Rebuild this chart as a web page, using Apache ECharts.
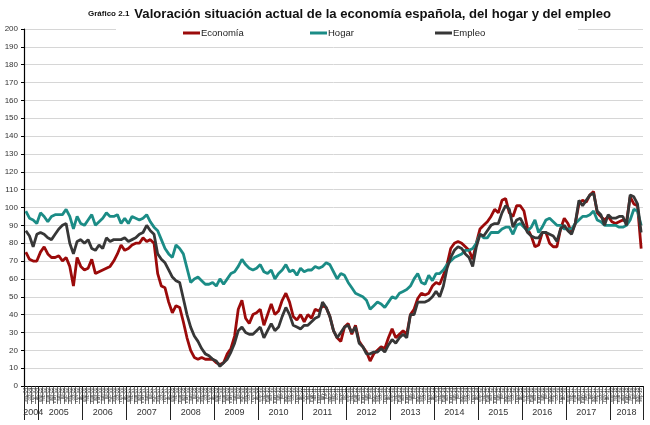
<!DOCTYPE html>
<html>
<head>
<meta charset="utf-8">
<script src="https://cdn.jsdelivr.net/npm/echarts@6/dist/echarts.min.js"></script>
<style>
  html, body { margin: 0; padding: 0; background: #fff; }
  #chart { width: 650px; height: 425px; }
</style>
</head>
<body>
<div id="chart"></div>
<script>
// meses sep-2004 .. sep-2018
var monthNames = ['ene', 'feb', 'mar', 'abr', 'may', 'jun', 'jul', 'ago', 'sep', 'oct', 'nov', 'dic'];
var startYear = 2004, startMonth = 8, monthCount = 169;

var yearLabels = ['2004', '2005', '2006', '2007', '2008', '2009', '2010', '2011',
                  '2012', '2013', '2014', '2015', '2016', '2017', '2018'];
// category index of each year's first month, and of the month under the year label
var yearStartIdx = [0, 4, 16, 28, 40, 52, 64, 76, 88, 100, 112, 124, 136, 148, 160];
var yearLabelIdx = [2, 9, 21, 33, 45, 57, 69, 81, 93, 105, 117, 129, 141, 153, 164];

var economia = [
  75, 71, 70, 70,
  75, 78, 74, 72, 72, 73, 70, 72, 67, 56, 72, 67,
  65, 66, 71, 63, 64, 65, 66, 67, 70, 74, 79, 76,
  77, 79, 80, 80, 83, 81, 82, 80, 63, 56, 55, 47,
  41, 45, 44, 36, 27, 20, 16, 15, 16, 15, 15, 15,
  13, 12, 13, 18, 21, 28, 43, 48, 38, 35, 40, 41,
  43, 34, 40, 46, 40, 42, 48, 52, 47, 39, 37, 40,
  36, 40, 38, 43, 42, 45, 44, 39, 31, 27, 25, 33,
  35, 29, 34, 25, 22, 19, 14, 18, 20, 22, 21, 27,
  32, 27, 29, 31, 29, 40, 43, 49, 52, 51, 52, 56,
  58, 57, 62, 68, 77, 80, 81, 80, 78, 76, 71, 80,
  88, 90, 92, 95, 99, 97, 104, 105, 97, 95, 101, 101,
  98, 88, 84, 78, 79, 86, 86, 80, 78, 78, 88, 94,
  91, 86, 91, 102, 104, 103, 107, 109, 97, 95, 93, 95,
  92, 91, 92, 93, 92, 106, 102, 101, 77
];

var hogar = [
  98, 94, 93, 91,
  97, 95, 92, 95, 96, 96, 96, 99, 95, 88, 95, 91,
  90, 93, 96, 90, 92, 94, 97, 95, 95, 96, 91, 94,
  91, 95, 94, 93, 94, 96, 92, 89, 87, 82, 77, 74,
  72, 79, 77, 74, 66, 58, 60, 61, 59, 57, 57, 58,
  56, 60, 57, 60, 63, 64, 67, 71, 68, 66, 65, 66,
  68, 64, 63, 65, 60, 63, 65, 68, 64, 65, 62, 66,
  64, 65, 65, 67, 66, 67, 69, 68, 64, 60, 63, 62,
  58, 55, 52, 51, 50, 48, 43, 45, 47, 46, 44, 47,
  50, 49, 52, 53, 54, 56, 60, 63, 58, 57, 62, 59,
  63, 63, 65, 68, 70, 72, 73, 74, 76, 76, 77, 80,
  85, 83, 83, 86, 86, 86, 88, 89, 89, 85, 90, 91,
  89, 87, 89, 93, 86, 89, 93, 94, 92, 90, 90, 88,
  88, 88, 91, 93, 95, 95, 96, 98, 93, 92, 90, 90,
  90, 90, 89, 89, 90, 93, 99, 98, 90
];

var empleo = [
  87, 84, 78, 85,
  86, 85, 83, 82, 85, 88, 90, 91, 80, 74, 81, 82,
  80, 82, 77, 76, 79, 77, 83, 81, 82, 82, 82, 83,
  81, 82, 83, 85, 86, 90, 87, 85, 74, 71, 69, 65,
  61, 59, 58, 49, 40, 33, 28, 25, 21, 18, 17, 15,
  14, 11, 13, 15, 19, 24, 31, 33, 30, 29, 29, 31,
  33, 27, 31, 35, 31, 33, 39, 44, 40, 34, 33, 32,
  34, 34, 36, 38, 39, 47, 44, 39, 31, 27, 30, 33,
  34, 30, 33, 24, 22, 18, 18, 19, 19, 21, 19, 23,
  26, 24, 27, 29, 27, 40, 40, 47, 47, 47, 48, 50,
  53, 50, 56, 66, 72, 76, 78, 77, 74, 72, 67, 78,
  85, 84, 87, 90, 91, 91, 97, 101, 99, 89, 93, 94,
  90, 86, 84, 83, 83, 86, 86, 85, 84, 81, 88, 90,
  87, 85, 91, 104, 101, 104, 107, 108, 98, 96, 90, 96,
  94, 94, 95, 95, 90, 107, 106, 102, 86
];

var categories = [];
for (var i = 0; i < monthCount; i++) {
  var m = (startMonth + i) % 12;
  var y = startYear + Math.floor((startMonth + i) / 12);
  categories.push(monthNames[m] + '-' + String(y).slice(2));
}

var colors = { economia: '#9b0a0a', hogar: '#1b8c86', empleo: '#373737' };
var font = 'Liberation Sans, Arial, sans-serif';

function legendAt(name, left) {
  return {
    data: [name], left: left, top: 28, z: 10,
    icon: 'rect', itemWidth: 17, itemHeight: 3, itemGap: 0,
    textStyle: { fontFamily: font, fontSize: 9.5, color: '#222', padding: [0, 0, 0, -4] },
    selectedMode: false, padding: 0
  };
}

var chart = echarts.init(document.getElementById('chart'), null, { renderer: 'canvas' });
chart.setOption({
  animation: false,
  backgroundColor: '#fff',
  color: [colors.economia, colors.hogar, colors.empleo],
  title: {
    text: '{a|Gráfico 2.1} {b|Valoración situación actual de la economía española, del hogar y del empleo}',
    left: 83, top: 0,
    textStyle: {
      rich: {
        a: { fontFamily: font, fontSize: 8, fontWeight: 'bold', color: '#111' },
        b: { fontFamily: font, fontSize: 13.1, fontWeight: 'bold', color: '#111' }
      }
    }
  },
  graphic: [{
    type: 'rect', left: 116, top: 26, z: 3,
    shape: { width: 462, height: 14 },
    style: { fill: '#fff' }
  }],
  legend: [
    legendAt('Economía', 183),
    legendAt('Hogar', 310),
    legendAt('Empleo', 435)
  ],
  grid: { left: 24, right: 7, top: 29, bottom: 39, containLabel: false },
  xAxis: [{
    type: 'category', data: categories, boundaryGap: true,
    axisLine: { show: true, lineStyle: { color: '#000', width: 1.2 } },
    axisTick: { show: true, interval: 0, length: 18, lineStyle: { color: '#333', width: 0.7 } },
    axisLabel: {
      show: true, interval: 0, rotate: 90, margin: 2, hideOverlap: false,
      fontFamily: font, fontSize: 4.5, color: '#333'
    },
    splitLine: { show: false }
  }, {
    type: 'category', data: categories, boundaryGap: true, position: 'bottom',
    axisLine: { show: true, lineStyle: { color: 'rgba(0,0,0,0)' } },
    axisTick: {
      show: true, length: 34, lineStyle: { color: '#222', width: 1 },
      interval: function (idx) { return yearStartIdx.indexOf(idx) >= 0; }
    },
    axisLabel: {
      show: true, margin: 22, fontFamily: font, fontSize: 9, color: '#333', hideOverlap: false,
      interval: function (idx) { return yearLabelIdx.indexOf(idx) >= 0; },
      formatter: function (v, idx) {
        var k = yearLabelIdx.indexOf(idx);
        return k >= 0 ? yearLabels[k] : '';
      }
    }
  }],
  yAxis: {
    type: 'value', min: 0, max: 200, interval: 10,
    axisLine: { show: true, lineStyle: { color: '#000', width: 1.2 } },
    axisTick: { show: true, length: 3, lineStyle: { color: '#000' } },
    axisLabel: { fontFamily: font, fontSize: 8, color: '#333', margin: 6 },
    splitLine: { lineStyle: { color: '#d6d6d6', width: 1 } }
  },
  series: [
    { name: 'Economía', type: 'line', data: economia, symbol: 'none',
      lineStyle: { width: 2.8, color: colors.economia }, z: 2 },
    { name: 'Hogar', type: 'line', data: hogar, symbol: 'none',
      lineStyle: { width: 2.8, color: colors.hogar }, z: 2 },
    { name: 'Empleo', type: 'line', data: empleo, symbol: 'none',
      lineStyle: { width: 2.8, color: colors.empleo }, z: 2 }
  ]
});
</script>
</body>
</html>
